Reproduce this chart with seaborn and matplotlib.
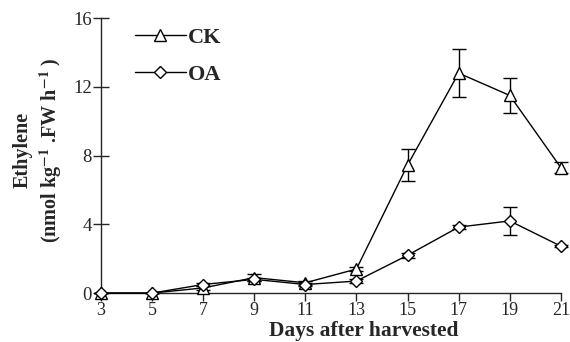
import matplotlib
matplotlib.use('Agg')
from matplotlib import pyplot as plt
import seaborn as sns
import pandas as pd

days = [3, 5, 7, 9, 11, 13, 15, 17, 19, 21]
ck = [0, 0, 0.3, 0.9, 0.6, 1.4, 7.45, 12.8, 11.5, 7.3]
ck_err = [0, 0, 0.1, 0.2, 0.1, 0.1, 0.95, 1.4, 1.0, 0.3]
oa = [0, 0, 0.5, 0.8, 0.5, 0.7, 2.2, 3.84, 4.2, 2.73]
oa_err = [0, 0, 0.1, 0.1, 0.1, 0.1, 0.15, 0.1, 0.8, 0.05]

sns.set_style('ticks')
plt.rcParams['font.family'] = ['Liberation Serif', 'DejaVu Serif']
plt.rcParams['mathtext.fontset'] = 'stix'

fig = plt.figure(figsize=(5.7, 3.42), dpi=100)
ax = fig.add_axes([0.177, 0.143, 0.807, 0.804])

series = [('CK', ck, ck_err, '^', 9), ('OA', oa, oa_err, 'D', 6.5)]
for nome, vals, errs, mk, ms in series:
    df = pd.DataFrame({'dia': days, 'valor': vals})
    ax.errorbar(days, vals, yerr=errs, fmt='none', ecolor='black',
                elinewidth=1, capsize=5, capthick=1, clip_on=False, zorder=2)
    sns.lineplot(x='dia', y='valor', data=df, ax=ax, color='black', lw=1,
                 marker=mk, markersize=ms, markerfacecolor='white',
                 markeredgecolor='black', markeredgewidth=1, label=nome,
                 clip_on=False, zorder=3)

ax.set_xlim(3, 21)
ax.set_ylim(0, 16)
ax.set_xticks(days)
ax.set_yticks([0, 4, 8, 12, 16])
ax.tick_params(axis='x', direction='out', length=6, width=1, labelsize=13, pad=0.5)
ax.tick_params(axis='y', direction='inout', length=11, width=1, labelsize=13.5, pad=1)
for s in ['top', 'right']:
    ax.spines[s].set_visible(False)
for s in ['left', 'bottom']:
    ax.spines[s].set_linewidth(1)

ax.set_xlabel('Days after harvested', fontsize=15.5, fontweight='bold')
ax.xaxis.set_label_coords(0.572, -0.1)
ax.set_ylabel('Ethylene\n(nmol kg$^{\\mathbf{-1}}$ .FW h$^{\\mathbf{-1}}$ )',
              fontsize=14.5, fontweight='bold', linespacing=1.25)
ax.yaxis.set_label_coords(-0.08, 0.52)

leg = ax.legend(loc='upper left', bbox_to_anchor=(0.03, 1.04), frameon=False,
                prop={'weight': 'bold', 'size': 16}, handlelength=2.3,
                labelspacing=0.75, handletextpad=0.1)

fig.savefig('out.png', dpi=100)
